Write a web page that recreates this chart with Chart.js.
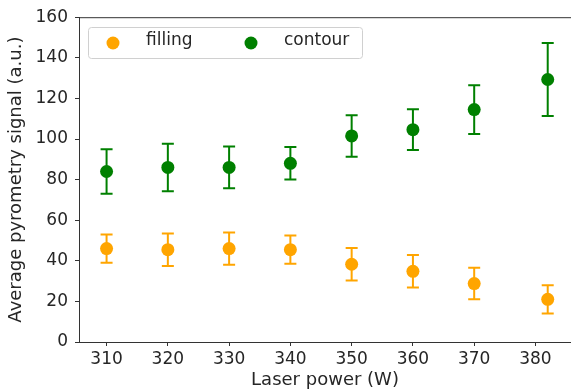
<!DOCTYPE html>
<html>
<head>
<meta charset="utf-8">
<script src="https://cdn.jsdelivr.net/npm/chart.js@4"></script>
<style>
  html, body { margin: 0; padding: 0; background: #fff; }
  #wrap { width: 571px; height: 391px; }
</style>
</head>
<body>
<div id="wrap"><canvas id="pyroChart" width="571" height="391"></canvas></div>
<script>
// laser power (W) for each measurement
const powerFilling = [310, 320, 330, 340, 350, 360, 370, 382];
const powerContour = [310, 320, 330, 340, 350, 360, 370, 382];
// mean signal and error (a.u.)
const fillingMean = [46, 45.5, 46, 45.5, 38.3, 34.8, 28.8, 21];
const fillingErr  = [7, 8, 8, 7, 8, 8, 7.8, 7];
const contourMean = [84, 86, 86, 88, 101.5, 104.6, 114.5, 129.3];
const contourErr  = [11, 11.7, 10.3, 8, 10.2, 10, 12, 18];
const xTicks = [310, 320, 330, 340, 350, 360, 370, 380];
const yTicks = [0, 20, 40, 60, 80, 100, 120, 140, 160];

const FONT = 'DejaVu Sans';
const ORANGE = '#ffa500';
const GREEN = '#008000';

function toPoints(xs, ys, es) {
    return xs.map((x, i) => ({ x: x, y: ys[i], err: es[i] }));
}

// vertical error bars with caps, drawn through the scales
const errorBars = {
    id: 'errorBars',
    afterDatasetsDraw(chart) {
        const ctx = chart.ctx;
        const xs = chart.scales.x, ys = chart.scales.y;
        chart.data.datasets.forEach(ds => {
            ctx.save();
            ctx.strokeStyle = ds.backgroundColor;
            ctx.lineWidth = 2;
            ds.data.forEach(p => {
                const px = xs.getPixelForValue(p.x);
                const top = ys.getPixelForValue(p.y + p.err);
                const bot = ys.getPixelForValue(p.y - p.err);
                ctx.beginPath();
                ctx.moveTo(px, top); ctx.lineTo(px, bot);
                ctx.moveTo(px - 6, top); ctx.lineTo(px + 6, top);
                ctx.moveTo(px - 6, bot); ctx.lineTo(px + 6, bot);
                ctx.stroke();
            });
            ctx.restore();
        });
    }
};

// top spine + legend box inside the plot
const frameAndLegend = {
    id: 'frameAndLegend',
    afterDraw(chart) {
        const ctx = chart.ctx;
        const a = chart.chartArea;
        ctx.save();
        ctx.strokeStyle = '#333';
        ctx.lineWidth = 1;
        ctx.beginPath();
        ctx.moveTo(a.left, a.top + 0.5);
        ctx.lineTo(a.right, a.top + 0.5);
        ctx.stroke();

        // legend
        const bx = 88, by = 27, bw = 274, bh = 31;
        ctx.fillStyle = 'rgba(255,255,255,0.8)';
        ctx.strokeStyle = '#d0d0d0';
        ctx.beginPath();
        ctx.roundRect(bx + 0.5, by + 0.5, bw, bh, 3);
        ctx.fill();
        ctx.stroke();
        const items = [
            { label: chart.data.datasets[0].label, color: ORANGE, mx: 113, tx: 146 },
            { label: chart.data.datasets[1].label, color: GREEN, mx: 251, tx: 284 }
        ];
        ctx.font = '17px "' + FONT + '"';
        ctx.textBaseline = 'middle';
        items.forEach(it => {
            ctx.fillStyle = it.color;
            ctx.beginPath();
            ctx.arc(it.mx, by + 16, 6.5, 0, Math.PI * 2);
            ctx.fill();
            ctx.fillStyle = '#262626';
            ctx.fillText(it.label, it.tx, by + 14);
        });
        ctx.restore();
    }
};

new Chart(document.getElementById('pyroChart').getContext('2d'), {
    type: 'scatter',
    data: {
        datasets: [
            { label: 'filling', data: toPoints(powerFilling, fillingMean, fillingErr), backgroundColor: ORANGE, borderColor: ORANGE, pointRadius: 6.5, borderWidth: 0 },
            { label: 'contour', data: toPoints(powerContour, contourMean, contourErr), backgroundColor: GREEN, borderColor: GREEN, pointRadius: 6.5, borderWidth: 0 }
        ]
    },
    options: {
        responsive: false,
        animation: false,
        layout: { autoPadding: false, padding: { top: 17, right: 0, left: 0, bottom: 0 } },
        scales: {
            x: {
                type: 'linear',
                min: 305.5,
                max: 385.8,
                afterBuildTicks: s => { s.ticks = xTicks.map(v => ({ value: v })); },
                afterFit: s => { s.height = 49; },
                grid: { drawOnChartArea: false, drawTicks: true, tickLength: 4, color: '#333' },
                border: { color: '#333', width: 1 },
                ticks: { color: '#262626', font: { family: FONT, size: 17 }, padding: 3, maxRotation: 0 },
                title: { display: true, text: 'Laser power (W)', color: '#262626', font: { family: FONT, size: 18 }, padding: { top: 0, bottom: 0 } }
            },
            y: {
                min: 0,
                max: 160,
                afterBuildTicks: s => { s.ticks = yTicks.map(v => ({ value: v })); },
                afterFit: s => { s.width = 79; },
                grid: { drawOnChartArea: false, drawTicks: true, tickLength: 4, color: '#333' },
                border: { color: '#333', width: 1 },
                ticks: { color: '#262626', font: { family: FONT, size: 17 }, padding: 7 },
                title: { display: true, text: 'Average pyrometry signal (a.u.)', color: '#262626', font: { family: FONT, size: 18 }, padding: { top: 6, bottom: 0 } }
            }
        },
        plugins: {
            legend: { display: false },
            tooltip: { enabled: false }
        }
    },
    plugins: [errorBars, frameAndLegend]
});
</script>
</body>
</html>
